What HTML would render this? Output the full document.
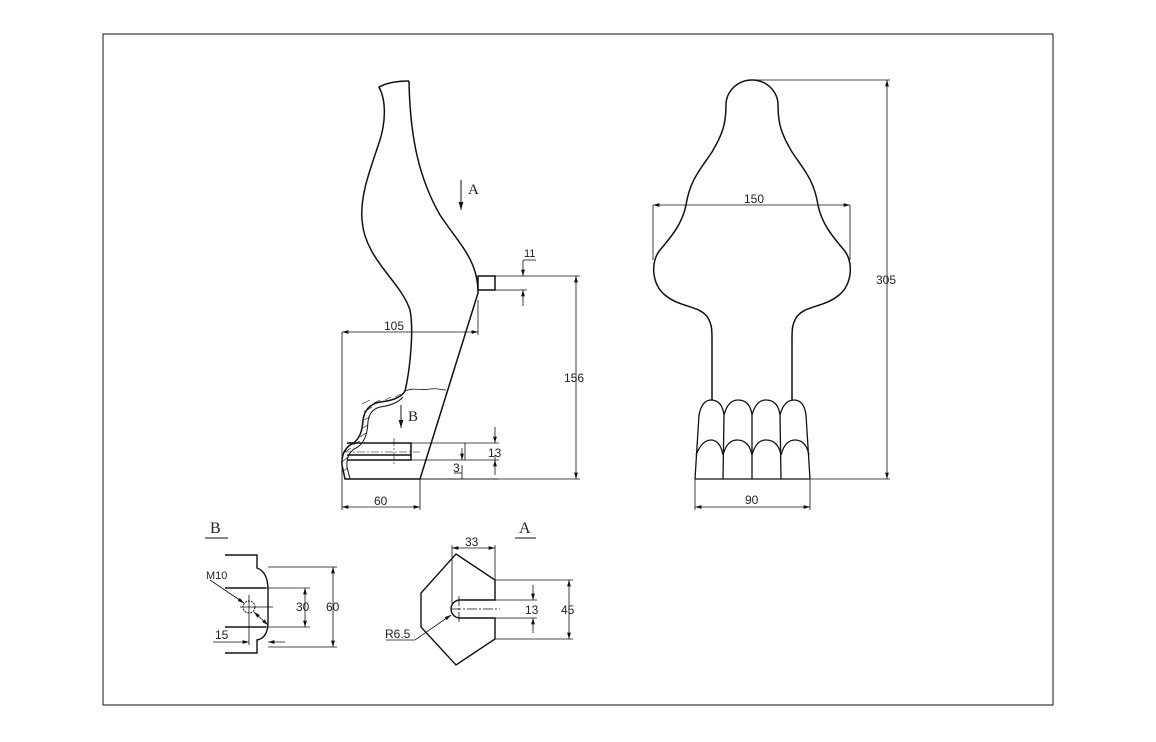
<!DOCTYPE html>
<html><head><style>body{margin:0;background:#fff}svg{display:block}text{font-family:"Liberation Sans",sans-serif;font-size:12px;fill:#222;stroke:none}</style></head><body>
<svg width="1156" height="742" viewBox="0 0 1156 742" fill="none" stroke="#111" stroke-width="1">
<defs><marker id="a" viewBox="0 0 10 6" refX="10" refY="3" markerWidth="8" markerHeight="5" orient="auto-start-reverse"><path d="M0 0L10 3L0 6z" fill="#111" stroke="none"/></marker></defs>
<rect x="103" y="34" width="950" height="671"/>
<!-- side view -->
<g stroke-width="1.5">
<path d="M409 81 Q390 81 379 87 C386 100 386 120 380 140 C370 170 360 195 362 220 C365 260 400 280 410 310 C414 330 410 370 405 391"/>
<path d="M405 391 Q400 400 380 402 Q365 405 363 420 Q362 440 350 445 Q341 452 342 465 L345 479 L420 479 L478 293 C478 260 460 245 440 215 C420 180 410 140 409 81"/>
<path d="M403 397 Q396 405 380 407 Q369 410 368 422 Q367 444 354 449 Q346 455 347 467 L350 479" stroke-width="1"/>
<path d="M347 443 L411 443 L411 460 L347 460 M347 455 L411 455"/>
<rect x="478" y="276" width="17" height="14"/>
</g>
<path d="M405 391 C415 387 420 391 430 389 C437 388 442 390 446 390" stroke-width="0.8"/>
<g stroke-width="0.6">
<path d="M362 404 l8 -4 M364 412 l8 -5 M364 420 l6 -3 M363 428 l5 -3 M360 437 l6 -4 M353 445 l7 -4 M345 452 l6 -4 M342 462 l6 -5 M343 471 l5 -3 M385 400 l6 -3 M395 397 l6 -3 M374 403 l6 -3"/>
</g>
<path d="M461 180 L461 210" marker-end="url(#a)"/><text x="468" y="194" style="font-size:15px;font-family:'Liberation Serif',serif">A</text>
<path d="M401 405 L401 428" marker-end="url(#a)"/><text x="408" y="421" style="font-size:15px;font-family:'Liberation Serif',serif">B</text>
<path d="M394 438 V466 M343 452 H420" stroke-width="0.6" stroke-dasharray="8 2 2 2"/>
<g stroke-width="0.8">
<path d="M342 332 H478" marker-start="url(#a)" marker-end="url(#a)"/>
<path d="M342 332 V510 M478 300 V335 M420 479 V510"/>
<path d="M342 507 H420" marker-start="url(#a)" marker-end="url(#a)"/>
<path d="M495 276 H580 M420 479 H580 M495 290 H527"/>
<path d="M576 276 V479" marker-start="url(#a)" marker-end="url(#a)"/>
<path d="M523 260 V276" marker-end="url(#a)"/><path d="M523 306 V290" marker-end="url(#a)"/><path d="M523 260 H536"/>
<path d="M411 443 H499 M411 460 H499 M465 443 V460 M420 479 H499"/>
<path d="M495 427 V443" marker-end="url(#a)"/><path d="M495 455 V460"/><path d="M495 475 V460" marker-end="url(#a)"/>
<path d="M462 448 V460" marker-end="url(#a)"/><path d="M462 479 V465"/><path d="M454 473 H462"/>
</g>
<text x="384" y="330">105</text><text x="374" y="505">60</text><text x="564" y="382">156</text>
<text x="524" y="257" style="font-size:11px">11</text><text x="488" y="457">13</text><text x="453" y="472">3</text>
<!-- front view -->
<path stroke-width="1.5" d="M752 80 C737 80 726 92 726 105 C726 125 722 135 712 152 C700 170 690 180 686 205 C682 225 670 238 660 250 C650 262 652 285 665 295 C680 308 700 305 708 318 C712 325 712 330 712 340 L712 400 M752 80 C767 80 778 92 778 105 C778 125 782 135 792 152 C804 170 814 180 818 205 C822 225 834 238 844 250 C854 262 852 285 839 295 C824 308 804 305 796 318 C792 325 792 330 792 340 L792 400"/>
<g stroke-width="1.3">
<path d="M695 479 L810 479 M695 479 L699 415 M810 479 L806 415"/>
<path d="M699 415 Q702 400 711 400 Q722 400 724 415 Q728 400 738 400 Q750 400 752 415 Q756 400 766 400 Q778 400 780 415 Q784 400 794 400 Q804 400 806 415"/>
<path d="M696 455 Q702 440 711 440 Q720 440 723 455 Q727 440 737 440 Q749 440 752 455 Q756 440 766 440 Q778 440 781 455 Q785 440 795 440 Q806 440 809 455"/>
<path d="M724 415 L723 479 M752 415 L752 479 M780 415 L781 479"/>
</g>
<g stroke-width="0.8">
<path d="M653 205 H850" marker-start="url(#a)" marker-end="url(#a)"/><path d="M653 205 V260 M850 205 V260"/>
<path d="M752 80 H890 M810 479 H890"/>
<path d="M887 80 V479" marker-start="url(#a)" marker-end="url(#a)"/>
<path d="M695 479 V510 M810 479 V510"/>
<path d="M695 507 H810" marker-start="url(#a)" marker-end="url(#a)"/>
</g>
<text x="744" y="203">150</text><text x="876" y="284">305</text><text x="745" y="504">90</text>
<!-- detail B -->
<text x="210" y="533" style="font-size:16px;font-family:'Liberation Serif',serif">B</text><path d="M205 538 H228"/>
<path stroke-width="1.4" d="M225 555 H257 V568 Q268 572 268 590 V622 Q268 638 257 640 V653 H225 M225 588 H266 M225 627 H266"/>
<circle cx="249" cy="607" r="6" stroke-dasharray="2 1"/>
<g stroke-width="0.8">
<path d="M240 607 H273 M249 595 V645"/>
<path d="M210 580 L244 603" marker-end="url(#a)"/><path d="M254 612 L268 625" marker-end="url(#a)" marker-start="url(#a)"/>
<path d="M268 567 H337 M268 647 H337 M266 588 H310 M266 627 H310"/>
<path d="M333 567 V647" marker-start="url(#a)" marker-end="url(#a)"/>
<path d="M305 588 V627" marker-start="url(#a)" marker-end="url(#a)"/>
<path d="M213 642 H249" marker-end="url(#a)"/><path d="M285 642 H268" marker-end="url(#a)"/>
</g>
<text x="206" y="579" style="font-size:11px">M10</text><text x="296" y="611">30</text><text x="326" y="611">60</text><text x="215" y="639">15</text>
<!-- detail A -->
<text x="519" y="533" style="font-size:16px;font-family:'Liberation Serif',serif">A</text><path d="M515 538 H536"/>
<path stroke-width="1.4" d="M456 554 L495 580 V600 H460 A9 9 0 0 0 460 618 H495 V639 L456 665 L421 627 V593 Z"/>
<g stroke-width="0.8">
<path d="M451 609 H500 M459 596 V622" stroke-dasharray="10 2 2 2"/>
<path d="M452 545 V605 M495 545 V580"/>
<path d="M452 548 H495" marker-start="url(#a)" marker-end="url(#a)"/>
<path d="M495 580 H573 M495 639 H573 M495 600 H537 M495 618 H537"/>
<path d="M569 580 V639" marker-start="url(#a)" marker-end="url(#a)"/>
<path d="M533 585 V600" marker-end="url(#a)"/><path d="M533 633 V618" marker-end="url(#a)"/>
<path d="M386 640 H415 L451 615" marker-end="url(#a)"/>
</g>
<text x="465" y="546">33</text><text x="525" y="614">13</text><text x="561" y="614">45</text><text x="385" y="638">R6.5</text>
</svg>
</body></html>
